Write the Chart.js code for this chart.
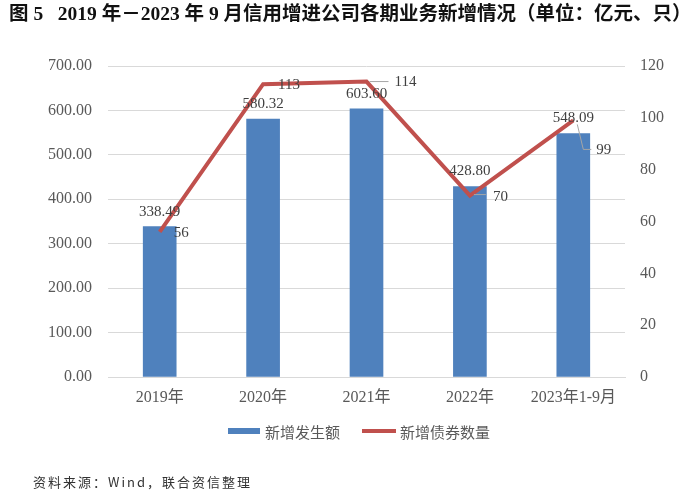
<!DOCTYPE html>
<html>
<head>
<meta charset="utf-8">
<script src="https://cdn.jsdelivr.net/npm/chart.js@4/dist/chart.umd.min.js"></script>
<style>
html,body{margin:0;padding:0;background:#fff;}
#wrap{position:relative;width:700px;height:495px;overflow:hidden;}
#c{position:absolute;left:0;top:0;}
#title{position:absolute;left:9px;top:2px;font-family:"Liberation Serif","Noto Sans CJK SC",serif;font-weight:bold;font-size:19.5px;color:#111;white-space:pre;line-height:24px;}
#src{position:absolute;left:33px;top:473px;font-family:"Noto Sans CJK SC","Liberation Serif",sans-serif;font-size:13px;color:#333;letter-spacing:2px;white-space:pre;line-height:18px;}
</style>
</head>
<body>
<div id="wrap">
<canvas id="c" width="700" height="495"></canvas>
<div id="title">图 5   2019 年－2023 年 9 月信用增进公司各期业务新增情况（单位：亿元、只）</div>
<div id="src">资料来源：Wind，联合资信整理</div>
</div>
<script>
// ---- data ----
const categories = ['2019年', '2020年', '2021年', '2022年', '2023年1-9月'];
const amountLabel = '新增发生额';
const countLabel = '新增债券数量';
const amountValues = [338.49, 580.32, 603.60, 428.80, 548.09];
const countValues = [56, 113, 114, 70, 99];
const leftTicks = [0, 100, 200, 300, 400, 500, 600, 700];
const rightTicks = [0, 20, 40, 60, 80, 100, 120];

// ---- styling ----
const BLUE = '#4F81BD';
const RED = '#C0504D';
const GRID = '#d9d9d9';
const TICK = '#595959';
const SERIF = '"Liberation Serif", "Noto Sans CJK SC", serif';

// label placement for the line series (relative to the point)
const lineLabelStyle = [
  {dx: 14, dy: 1, leader: null},
  {dx: 15, dy: 1, leader: null},
  {dx: 28, dy: 1, leader: [[3, 0], [22, 0]]},
  {dx: 23, dy: 1, leader: [[4, -1], [16, -1]]},
  {dx: 23, dy: 30, leader: [[4, 4], [10, 29], [18, 29]]}
];

const labelsPlugin = {
  id: 'valueLabels',
  afterDatasetsDraw(chart) {
    const ctx = chart.ctx;
    ctx.save();
    ctx.font = '15px ' + SERIF;
    ctx.fillStyle = '#404040';
    ctx.textBaseline = 'middle';
    // bar labels
    const barMeta = chart.getDatasetMeta(0);
    barMeta.data.forEach((el, i) => {
      ctx.textAlign = 'center';
      ctx.fillText(amountValues[i].toFixed(2), el.x, el.y - 15);
    });
    // line labels
    const lineMeta = chart.getDatasetMeta(1);
    lineMeta.data.forEach((el, i) => {
      const s = lineLabelStyle[i];
      if (s.leader) {
        ctx.strokeStyle = '#a6a6a6';
        ctx.lineWidth = 1;
        ctx.beginPath();
        s.leader.forEach((p, k) => {
          if (k === 0) ctx.moveTo(el.x + p[0], el.y + p[1]);
          else ctx.lineTo(el.x + p[0], el.y + p[1]);
        });
        ctx.stroke();
      }
      ctx.textAlign = 'left';
      ctx.fillText(String(countValues[i]), el.x + s.dx, el.y + s.dy);
    });
    ctx.restore();
  }
};

const legendPlugin = {
  id: 'customLegend',
  afterDraw(chart) {
    const ctx = chart.ctx;
    ctx.save();
    const y = 431;
    ctx.fillStyle = BLUE;
    ctx.fillRect(228, y - 3, 32, 6);
    ctx.strokeStyle = RED;
    ctx.lineWidth = 4;
    ctx.beginPath();
    ctx.moveTo(362, y);
    ctx.lineTo(396, y);
    ctx.stroke();
    ctx.font = '15px "Noto Sans CJK SC", serif';
    ctx.fillStyle = TICK;
    ctx.textBaseline = 'middle';
    ctx.textAlign = 'left';
    ctx.fillText(amountLabel, 265, y + 1);
    ctx.fillText(countLabel, 400, y + 1);
    ctx.restore();
  }
};

new Chart(document.getElementById('c'), {
  data: {
    labels: categories,
    datasets: [
      {
        type: 'bar',
        label: amountLabel,
        data: amountValues,
        backgroundColor: BLUE,
        barThickness: 33,
        yAxisID: 'y',
        order: 2
      },
      {
        type: 'line',
        label: countLabel,
        data: countValues,
        borderColor: RED,
        backgroundColor: RED,
        borderWidth: 4,
        pointRadius: 0,
        tension: 0,
        borderJoinStyle: 'miter',
        yAxisID: 'y1',
        order: 1
      }
    ]
  },
  options: {
    responsive: false,
    animation: false,
    layout: {padding: {top: 66, left: 0, right: 0, bottom: 0}},
    plugins: {legend: {display: false}, tooltip: {enabled: false}, title: {display: false}},
    scales: {
      x: {
        offset: true,
        grid: {display: false, drawTicks: false},
        border: {display: true, color: GRID, width: 1},
        ticks: {color: TICK, font: {family: SERIF, size: 16}, padding: 11, maxRotation: 0},
        afterFit(s) { s.height = 118; }
      },
      y: {
        position: 'left',
        min: 0, max: 700,
        afterBuildTicks(s) { s.ticks = leftTicks.map(v => ({value: v})); },
        grid: {color: GRID, lineWidth: 1, drawTicks: false},
        border: {display: false},
        ticks: {color: TICK, font: {family: SERIF, size: 16}, padding: 16,
          callback: v => Number(v).toFixed(2)},
        afterFit(s) { s.width = 108; }
      },
      y1: {
        position: 'right',
        min: 0, max: 120,
        afterBuildTicks(s) { s.ticks = rightTicks.map(v => ({value: v})); },
        grid: {display: false, drawTicks: false},
        border: {display: false},
        ticks: {color: TICK, font: {family: SERIF, size: 16}, padding: 15},
        afterFit(s) { s.width = 75; }
      }
    }
  },
  plugins: [labelsPlugin, legendPlugin]
});
</script>
</body>
</html>
